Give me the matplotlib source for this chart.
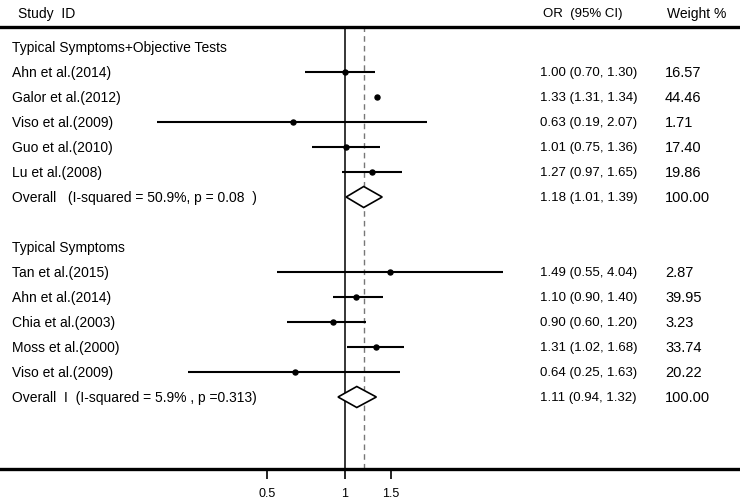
import numpy as np
import matplotlib
matplotlib.use("Agg")
import matplotlib.pyplot as plt
import matplotlib.transforms as mtransforms

plt.rcParams['font.family'] = ['Liberation Sans', 'DejaVu Sans']

# study rows, top to bottom (None = heading / blank row)
labels = ["Typical Symptoms+Objective Tests",
          "Ahn et al.(2014)", "Galor et al.(2012)", "Viso et al.(2009)",
          "Guo et al.(2010)", "Lu et al.(2008)",
          "Overall   (I-squared = 50.9%, p = 0.08  )",
          "",
          "Typical Symptoms",
          "Tan et al.(2015)", "Ahn et al.(2014)", "Chia et al.(2003)",
          "Moss et al.(2000)", "Viso et al.(2009)",
          "Overall  I  (I-squared = 5.9% , p =0.313)"]
kind = ["head", "study", "study", "study", "study", "study", "overall", "blank",
        "head", "study", "study", "study", "study", "study", "overall"]
odds = [None, 1.00, 1.33, 0.63, 1.01, 1.27, 1.18, None,
        None, 1.49, 1.10, 0.90, 1.31, 0.64, 1.11]
lower = [None, 0.70, 1.31, 0.19, 0.75, 0.97, 1.01, None,
         None, 0.55, 0.90, 0.60, 1.02, 0.25, 0.94]
upper = [None, 1.30, 1.34, 2.07, 1.36, 1.65, 1.39, None,
         None, 4.04, 1.40, 1.20, 1.68, 1.63, 1.32]
weights = [None, "16.57", "44.46", "1.71", "17.40", "19.86", "100.00", None,
           None, "2.87", "39.95", "3.23", "33.74", "20.22", "100.00"]
overall_or = 1.18
xticks = [0.5, 1, 1.5]
xticklabels = ["0.5", "1", "1.5"]

W, H = 740, 502
fig = plt.figure(figsize=(W / 100, H / 100), dpi=100)
top_px, bot_px = 28, 470
ax = fig.add_axes([0, 1 - bot_px / H, 1, (bot_px - top_px) / H])

ax.set_xscale("log")
x0 = 345  # pixel of OR = 1
k = 113   # pixels per ln unit
ax.set_xlim(np.exp(-x0 / k), np.exp((W - x0) / k))
ax.set_ylim((bot_px - 48) / 25, (top_px - 48) / 25)

fs = 10
tr = mtransforms.blended_transform_factory(ax.transAxes, ax.transData)

for i, kd in enumerate(kind):
    if kd == "blank":
        continue
    ax.text(12 / W, i, labels[i], transform=tr, ha="left", va="center", fontsize=fs)
    if kd == "study":
        ax.plot([lower[i], upper[i]], [i, i], color="black", lw=1.5, solid_capstyle="butt")
        ax.plot(odds[i], i, "o", color="black", ms=3.6)
    if kd == "overall":
        ax.fill([lower[i], odds[i], upper[i], odds[i]], [i, i - 0.42, i, i + 0.42],
                facecolor="white", edgecolor="black", lw=1.2, zorder=3)
    if kd in ("study", "overall"):
        ax.text(540 / W, i, "%.2f (%.2f, %.2f)" % (odds[i], lower[i], upper[i]),
                transform=tr, ha="left", va="center", fontsize=9.5)
        ax.text(665 / W, i, weights[i], transform=tr, ha="left", va="center", fontsize=10.5)

# headers above the top rule
hy = (14 - 48) / 25
ax.text(18 / W, hy, "Study  ID", transform=tr, ha="left", va="center", fontsize=fs, clip_on=False)
ax.text(543 / W, hy, "OR  (95% CI)", transform=tr, ha="left", va="center", fontsize=9.5, clip_on=False)
ax.text(667 / W, hy, "Weight %", transform=tr, ha="left", va="center", fontsize=fs, clip_on=False)

ax.axvline(1, color="black", lw=1.1, zorder=1)
ax.axvline(overall_or, color="#777777", lw=1, ls=(0, (4, 3)), zorder=1)

for s in ["left", "right"]:
    ax.spines[s].set_visible(False)
ax.spines["top"].set_linewidth(2.4)
ax.spines["bottom"].set_linewidth(2.4)
ax.set_yticks([])
ax.set_xticks(xticks)
ax.set_xticklabels(xticklabels, fontsize=9)
ax.minorticks_off()
ax.tick_params(axis="x", which="major", direction="out", length=7, width=1.2, pad=6)

fig.savefig("out.png", dpi=100)
